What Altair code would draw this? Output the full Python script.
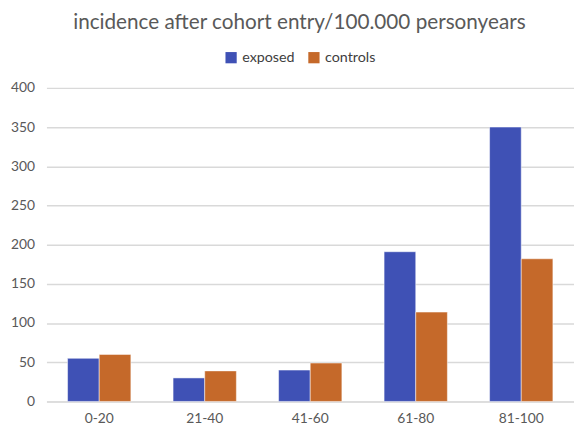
import altair as alt
import pandas as pd

categories = ["0-20", "21-40", "41-60", "61-80", "81-100"]
exposed = [55, 30, 40, 191, 350]
controls = [60, 39, 49, 114, 182]
series = ["exposed", "controls"]
colors = ["#3F51B5", "#C5692A"]

rows = []
for c, e, k in zip(categories, exposed, controls):
    rows.append({"age": c, "group": "exposed", "value": e})
    rows.append({"age": c, "group": "controls", "value": k})
df = pd.DataFrame(rows)

FONT = "Lato"

chart = alt.Chart(df).mark_bar(stroke="white", strokeWidth=0.5).encode(
    x=alt.X("age:N", sort=categories, title=None,
            scale=alt.Scale(paddingInner=0.4, paddingOuter=0.2),
            axis=alt.Axis(labelAngle=0, ticks=False, domain=True, domainColor="#D9D9D9",
                          labelFontSize=14, labelColor="#595959", labelFont=FONT, labelPadding=10)),
    xOffset=alt.XOffset("group:N", sort=series),
    y=alt.Y("value:Q", title=None,
            scale=alt.Scale(domain=[0, 400]),
            axis=alt.Axis(values=[0, 50, 100, 150, 200, 250, 300, 350, 400], ticks=False, domain=False,
                          gridColor="#D9D9D9", gridWidth=1.5,
                          labelFontSize=14, labelColor="#595959", labelFont=FONT, labelPadding=12)),
    color=alt.Color("group:N", sort=series,
                    scale=alt.Scale(domain=series, range=colors),
                    legend=alt.Legend(title=None, orient="none", direction="horizontal",
                                      legendX=180, legendY=-38, symbolType="square", symbolSize=130,
                                      labelFontSize=14.5, labelColor="#404040", labelFont=FONT,
                                      columnPadding=12, symbolStrokeWidth=0)),
).properties(
    width=535, height=318,
    title=alt.TitleParams("incidence after cohort entry/100.000 personyears", fontSize=21,
                          font=FONT, fontWeight="normal", color="#595959", anchor="middle",
                          dx=-11, offset=18),
    autosize=alt.AutoSizeParams(type="none"),
    padding={"left": 39, "top": 78, "right": 0, "bottom": 30},
).configure_view(stroke=None)

chart.save("out.html", embed_options={"renderer": "svg", "actions": False})
